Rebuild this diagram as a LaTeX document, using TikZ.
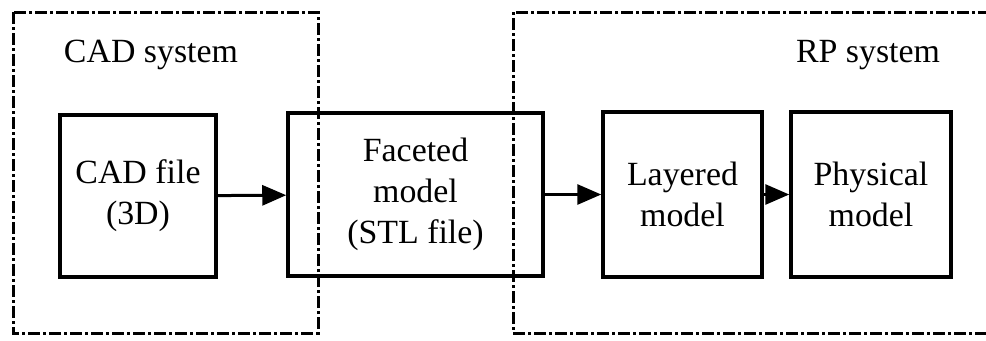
\documentclass[tikz,border=0pt]{standalone}
\usepackage{fontspec}
\setmainfont{Liberation Serif}
\usetikzlibrary{arrows.meta, positioning}

\begin{document}
\begin{tikzpicture}
[x=1bp, y=-1bp,
block/.style={rectangle, draw=black, line width=3.5bp, inner sep=0pt, align=center, font=\fontsize{34}{41}\selectfont},
system/.style={draw=black, line width=3bp, dash pattern=on 12bp off 3bp on 3bp off 3bp},
title/.style={font=\fontsize{34}{41}\selectfont},
flow/.style={draw=black, line width=3bp, -{Triangle[length=24bp, width=20bp]}},
]
\useasboundingbox (0,0) rectangle (986,340);

% system frames
\draw[system] (13,12) rectangle (318,333);
\draw[system] (990,12) -- (513,12) -- (513,333) -- (990,333);
\node[title] (cadlabel) at (151,55) {CAD system};
\node[title] (rplabel) at (868,55) {RP system};

% blocks
\node[block, minimum width=156bp, minimum height=162bp] (cadfile) at (138,196) {CAD file\\(3D)};
\node[block, minimum width=255bp, minimum height=163bp] (faceted) at (415.5,194.5) {Faceted\\model\\(STL file)};
\node[block, minimum width=159bp, minimum height=165bp] (layered) at (682.5,194.5) {Layered\\model};
\node[block, minimum width=160bp, minimum height=165bp] (physical) at (871,194.5) {Physical\\model};

% arrows
\draw[flow] (cadfile) -- (faceted);
\draw[flow] (faceted) -- (layered);
\draw[flow] (layered) -- (physical);
\end{tikzpicture}
\end{document}
